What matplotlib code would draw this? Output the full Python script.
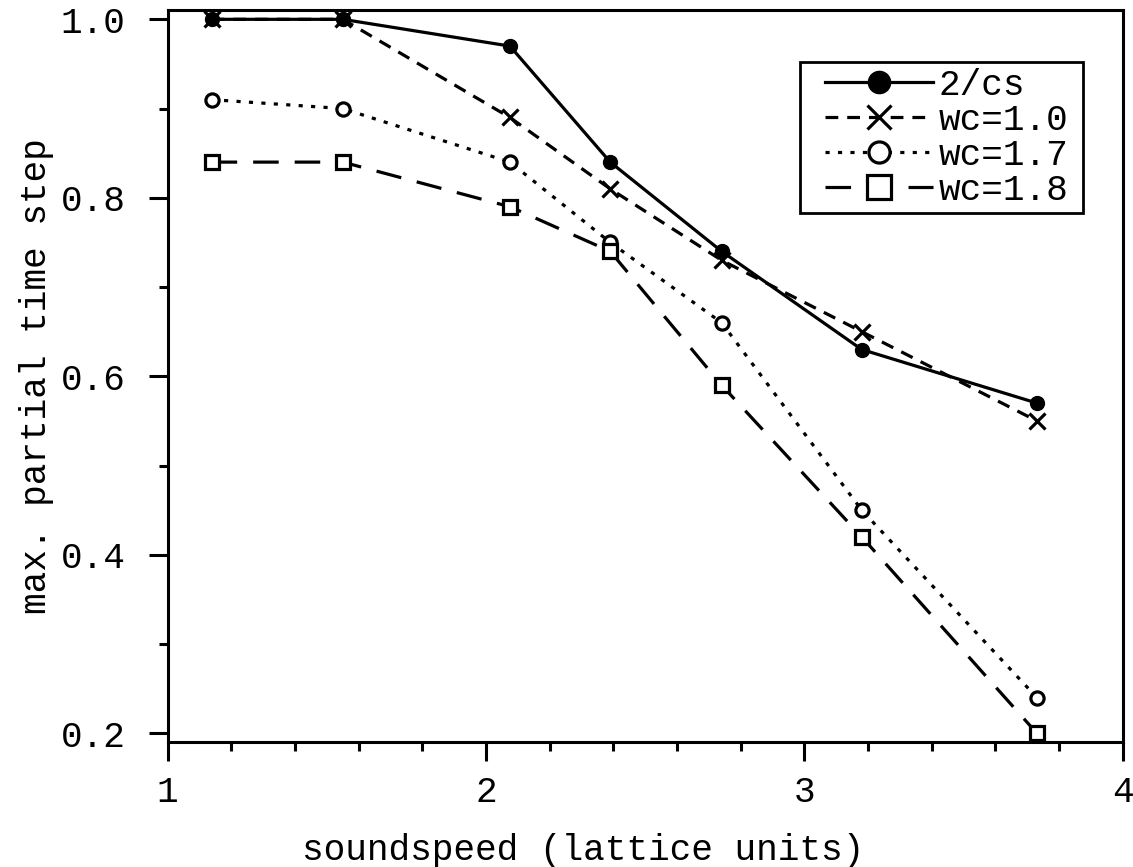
import numpy as np
import matplotlib.pyplot as plt
from matplotlib.ticker import MultipleLocator
from matplotlib.legend_handler import HandlerLine2D
from matplotlib.patches import Rectangle

plt.rcParams['font.family'] = ['Liberation Mono', 'DejaVu Sans Mono']

soundspeed = [1.138, 1.55, 2.075, 2.39, 2.74, 3.18, 3.73]
dt_2cs = [1.0, 1.0, 0.97, 0.84, 0.74, 0.63, 0.57]
dt_wc10 = [1.0, 1.0, 0.89, 0.81, 0.73, 0.65, 0.55]
dt_wc17 = [0.91, 0.90, 0.84, 0.75, 0.66, 0.45, 0.24]
dt_wc18 = [0.84, 0.84, 0.79, 0.74, 0.59, 0.42, 0.20]

fig = plt.figure(figsize=(11.33, 8.67), dpi=100)
ax = fig.add_axes([0.148, 0.144, 0.843, 0.844])

lw = 2.3
l1, = ax.plot(soundspeed, dt_2cs, '-', color='k', lw=lw, marker='o', ms=10,
              mfc='k', mec='k', label='2/cs')
l2, = ax.plot(soundspeed, dt_wc10, color='k', lw=lw, dashes=(4, 2.8), marker='x',
              ms=11, mew=2.3, label='wc=1.0')
l3, = ax.plot(soundspeed, dt_wc17, color='k', lw=lw, dashes=(1.3, 2.6), marker='o',
              ms=9.5, mfc='white', mec='k', mew=2.3, label='wc=1.7')
l4, = ax.plot(soundspeed, dt_wc18, color='k', lw=lw, dashes=(8, 5), marker='s',
              ms=10.5, mfc='white', mec='k', mew=2.3, label='wc=1.8')

ax.set_xlim(1, 4)
ax.set_ylim(0.19, 1.01)
ax.xaxis.set_major_locator(MultipleLocator(1))
ax.xaxis.set_minor_locator(MultipleLocator(0.2))
ax.yaxis.set_major_locator(MultipleLocator(0.2))
ax.yaxis.set_minor_locator(MultipleLocator(0.1))
ax.xaxis.set_major_formatter(plt.FuncFormatter(lambda v, p: '%d' % v))
ax.yaxis.set_major_formatter(plt.FuncFormatter(lambda v, p: '%.1f' % v))

for s in ax.spines.values():
    s.set_linewidth(2.2)

ax.tick_params(which='both', direction='out', width=2.2, top=False, right=False)
ax.tick_params(which='major', length=14, labelsize=26)
ax.tick_params(axis='x', which='major', pad=10)
ax.tick_params(axis='y', which='major', pad=16.5)
ax.tick_params(which='minor', length=6.5)

ax.set_xlabel('soundspeed (lattice units)', fontsize=26, labelpad=16.5)
ax.xaxis.label.set_x(0.435)
ax.set_ylabel('max. partial time step', fontsize=26, labelpad=4.5)

hmap = {h: HandlerLine2D(xpad=0.3) for h in (l1, l2, l3, l4)}
leg = ax.legend(loc='upper right', bbox_to_anchor=(0.9487, 0.929), fontsize=26,
                markerscale=1.6, handlelength=3.3, handletextpad=0.15,
                labelspacing=0.0, borderpad=0.15, borderaxespad=0,
                frameon=False, handler_map=hmap)

# legend box with wider side margins than the frame would give
fig.canvas.draw()
bb = leg.get_window_extent().transformed(ax.transAxes.inverted())
side = 9 / ax.get_window_extent().width
box = Rectangle((bb.x0 - side, bb.y0), bb.width + 2 * side, bb.height,
                transform=ax.transAxes, facecolor='white', edgecolor='k',
                lw=2.0, zorder=4.9, clip_on=False)
ax.add_patch(box)

fig.savefig('out.png', dpi=100)
